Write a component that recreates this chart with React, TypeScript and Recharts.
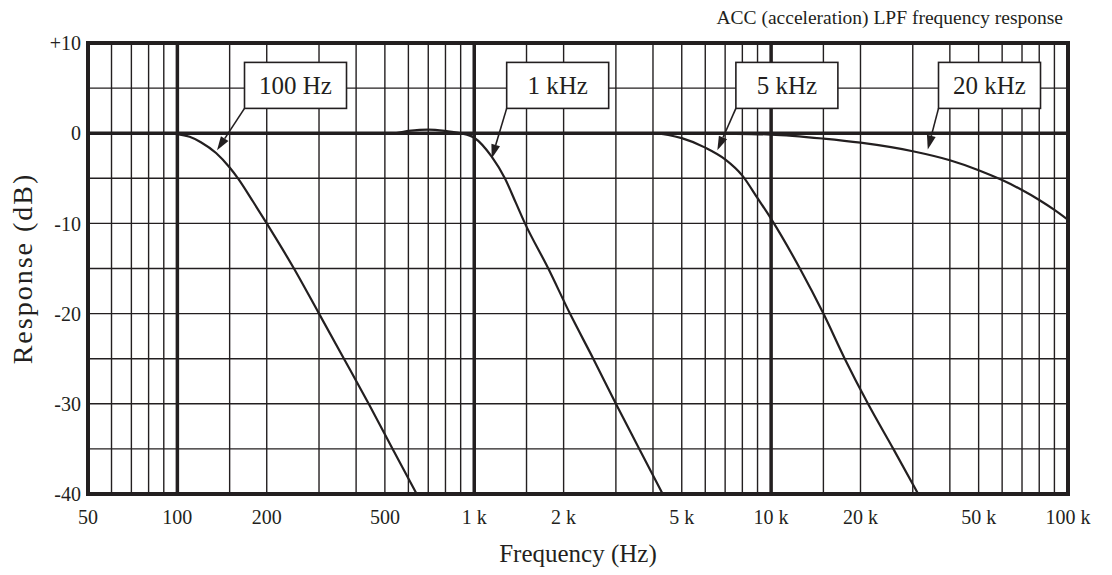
import { LineChart, Line, XAxis, YAxis, ReferenceLine, ReferenceArea, Label } from 'recharts';

const INK = '#231f20';
const FONT = '"Liberation Serif", "Times New Roman", serif';

// axis ticks
const freqTicks = [50, 100, 200, 500, 1000, 2000, 5000, 10000, 20000, 50000, 100000];
const dbTicks = [-40, -30, -20, -10, 0, 10];

// grid
const gridFreqs = [
  60, 70, 80, 90, 150, 200, 300, 400, 500, 600, 700, 800, 900,
  1500, 2000, 3000, 4000, 5000, 6000, 7000, 8000, 9000,
  15000, 20000, 30000, 40000, 50000, 60000, 70000, 80000, 90000,
];
const majorFreqs = [100, 1000, 10000];
const gridDb = [5, -5, -10, -15, -20, -25, -30, -35];

// 100 Hz LPF
const f100 = [50, 90, 100, 110, 120, 135, 150, 160, 180, 200, 247, 300, 364, 441, 531, 640];
const db100 = [0, 0, -0.1, -0.4, -1.0, -2.2, -3.8, -5.0, -7.6, -10, -15, -20, -25, -30, -35, -40];

// 1 kHz LPF
const f1k = [50, 530, 600, 700, 800, 900, 1000, 1145, 1268, 1380, 1482, 1776, 2101, 2517, 3000, 3597, 4313];
const db1k = [0, 0, 0.25, 0.4, 0.25, 0, -0.5, -2.6, -5.0, -7.7, -10, -15, -20, -25, -30, -35, -40];

// 5 kHz LPF
const f5k = [50, 4000, 4500, 5000, 6000, 7000, 8000, 9000, 10000, 12500, 15000, 17700, 21200, 25800, 31300];
const db5k = [0, 0, -0.2, -0.55, -1.6, -2.9, -4.7, -7.2, -9.5, -15, -20, -25, -30, -35, -40];

// 20 kHz LPF
const f20k = [50, 5000, 7000, 10000, 15000, 20000, 30000, 40000, 50000, 60000, 70000, 80000, 90000, 100000];
const db20k = [0, 0, -0.05, -0.15, -0.6, -1.05, -2.0, -3.0, -4.1, -5.2, -6.3, -7.4, -8.5, -9.6];

// callouts: box centre and arrow tip, in data units
const calloutText = ['100 Hz', '1 kHz', '5 kHz', '20 kHz'];
const calloutBoxF = [250, 1910, 11300, 54400];
const calloutBoxDb = [5.3, 5.3, 5.3, 5.3];
const calloutTipF = [136, 1145, 6590, 33700];
const calloutTipDb = [-1.9, -2.8, -1.9, -1.8];

const toPoints = (f: number[], db: number[]) => f.map((v, i) => ({ f: v, db: db[i] }));
const series = [toPoints(f100, db100), toPoints(f1k, db1k), toPoints(f5k, db5k), toPoints(f20k, db20k)];

const fmtFreq = (v: number) => (v >= 1000 ? `${v / 1000} k` : `${v}`);
const fmtDb = (v: number) => (v > 0 ? `+${v}` : `${v}`);

const Callout = (props: any) => {
  const { x1, y1, x2, y2, text } = props;
  const w = 102;
  const h = 46;
  // arrow starts at the box's lower left corner
  const sx = x1 - w / 2;
  const sy = y1 + h / 2;
  const ang = Math.atan2(y2 - sy, x2 - sx);
  const len = 14;
  const half = 4.5;
  const bx = x2 - len * Math.cos(ang);
  const by = y2 - len * Math.sin(ang);
  const px = -Math.sin(ang) * half;
  const py = Math.cos(ang) * half;
  return (
    <g>
      <line x1={sx} y1={sy} x2={bx} y2={by} stroke={INK} strokeWidth={1.6} />
      <polygon points={`${x2},${y2} ${bx + px},${by + py} ${bx - px},${by - py}`} fill={INK} />
      <rect x={x1 - w / 2} y={y1 - h / 2} width={w} height={h} fill="#fff" stroke={INK} strokeWidth={1.6} />
      <text x={x1} y={y1 + 8.5} textAnchor="middle" fontSize={25} fontFamily={FONT} fill={INK}>
        {text}
      </text>
    </g>
  );
};

export default function App() {
  return (
    <div style={{ position: 'absolute', left: 0, top: 0, width: 1112, height: 575, background: '#fff' }}>
      <div
        style={{
          position: 'absolute',
          right: 49,
          top: 7,
          fontFamily: FONT,
          fontSize: 19.5,
          color: INK,
          whiteSpace: 'nowrap',
        }}
      >
        ACC (acceleration) LPF frequency response
      </div>
      <LineChart width={1112} height={575} margin={{ top: 43, right: 44, bottom: 0, left: 0 }}>
        <XAxis
          dataKey="f"
          type="number"
          scale="log"
          domain={[50, 100000]}
          ticks={freqTicks}
          tickFormatter={fmtFreq}
          interval={0}
          allowDataOverflow
          axisLine={false}
          tickLine={false}
          tickSize={8}
          tickMargin={8}
          height={81}
          tick={{ fontSize: 20, fontFamily: FONT, fill: INK }}
        >
          <Label
            value="Frequency (Hz)"
            position="insideBottom"
            offset={13}
            style={{ fontSize: 25, fontFamily: FONT, fill: INK }}
          />
        </XAxis>
        <YAxis
          dataKey="db"
          type="number"
          domain={[-40, 10]}
          ticks={dbTicks}
          tickFormatter={fmtDb}
          interval={0}
          allowDataOverflow
          axisLine={false}
          tickLine={false}
          tickSize={5}
          tickMargin={2}
          width={88}
          tick={{ fontSize: 20, fontFamily: FONT, fill: INK }}
        >
          <Label
            value="Response (dB)"
            angle={-90}
            position="insideLeft"
            offset={22}
            style={{ fontSize: 28, letterSpacing: 2, fontFamily: FONT, fill: INK, textAnchor: 'middle' }}
          />
        </YAxis>

        {gridFreqs.map((f) => (
          <ReferenceLine key={`gx${f}`} x={f} stroke={INK} strokeWidth={1.4} />
        ))}
        {gridDb.map((d) => (
          <ReferenceLine key={`gy${d}`} y={d} stroke={INK} strokeWidth={1.4} />
        ))}
        {majorFreqs.map((f) => (
          <ReferenceLine key={`mx${f}`} x={f} stroke={INK} strokeWidth={3.5} />
        ))}
        <ReferenceLine y={0} stroke={INK} strokeWidth={3.5} />

        {series.map((pts, i) => (
          <Line
            key={`s${i}`}
            data={pts}
            dataKey="db"
            type="monotone"
            dot={false}
            activeDot={false}
            stroke={INK}
            strokeWidth={2.2}
            isAnimationActive={false}
          />
        ))}

        <ReferenceArea x1={50} x2={100000} y1={-40} y2={10} fill="none" stroke={INK} strokeWidth={4} />

        {calloutText.map((t, i) => (
          <ReferenceLine
            key={`c${i}`}
            segment={[
              { x: calloutBoxF[i], y: calloutBoxDb[i] },
              { x: calloutTipF[i], y: calloutTipDb[i] },
            ]}
            shape={(p: any) => <Callout {...p} text={t} />}
          />
        ))}
      </LineChart>
    </div>
  );
}
